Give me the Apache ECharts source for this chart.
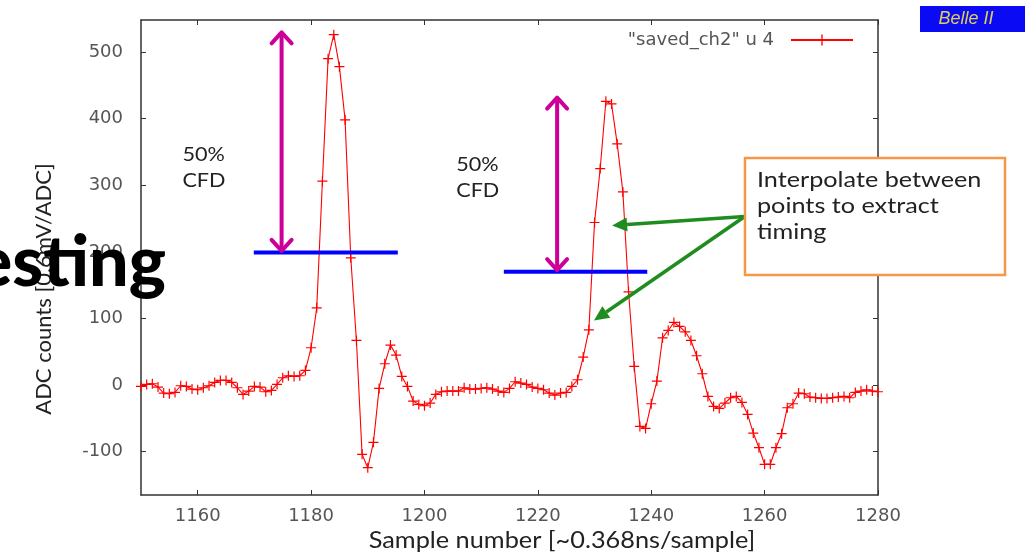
<!DOCTYPE html>
<html>
<head>
<meta charset="utf-8">
<script src="https://cdn.jsdelivr.net/npm/echarts@6/dist/echarts.min.js"></script>
<style>
  html, body { margin: 0; padding: 0; background: #ffffff; }
  #chart { width: 1035px; height: 554px; }
</style>
</head>
<body>
<div id="chart"></div>
<script>
// Waveform: one ADC reading per sample, starting at sample 1150
const firstSample = 1150;
const adcCounts = [
  -2, 1, 2, -3, -12, -13, -11, -1, -2, -6,
  -7, -4, -1, 4, 7, 7, 4, -4, -14, -9,
  -2, -3, -10, -8, 1, 11, 14, 13, 14, 22,
  56, 116, 306, 490, 526, 478, 398, 191, 67, -104,
  -124, -86, -5, 32, 60, 45, 13, -2, -24, -29,
  -31, -27, -14, -10, -9, -9, -9, -4, -6, -6,
  -5, -4, -6, -9, -11, -5, 5, 3, 1, -3,
  -5, -7, -12, -15, -12, -11, -2, 8, 42, 83,
  244, 325, 426, 422, 362, 290, 140, 28, -62, -65,
  -28, 6, 71, 82, 94, 88, 80, 67, 44, 17,
  -17, -32, -35, -27, -19, -17, -26, -44, -72, -94,
  -119, -119, -94, -73, -34, -28, -12, -13, -18, -19,
  -20, -20, -19, -18, -17, -19, -11, -9, -7, -9,
  -10
];
const seriesName = '"saved_ch2" u 4';

// Axis ranges and tick values
const xRange = [1150, 1280];
const yRange = [-165, 548];
const xTicks = [1160, 1180, 1200, 1220, 1240, 1260, 1280];
const yTicks = [-100, 0, 100, 200, 300, 400, 500];

// Annotations, in sample / ADC units
const cfdLevelLines = [[1169.9, 1195.3, 199], [1214.0, 1239.3, 170]];   // [from, to, level]
const cfdArrows = [[1174.8, 531, 200], [1223.4, 433, 171]];            // [sample, top, bottom]
const cfdLabelAt = [[1157.3, 365], [1205.6, 351]];                     // top-left of "50% CFD"
const pointerTail = [1256.5, 253];
const pointerTips = [[1233.1, 239.5], [1229.9, 97]];

const points = adcCounts.map((v, i) => [firstSample + i, v]);

const plusSymbol = 'path://M0,4.4L10,4.4L10,5.6L0,5.6Z M4.4,0L5.6,0L5.6,10L4.4,10Z';
const frameLine = { show: true, onZero: false, lineStyle: { color: '#333333', width: 1.5 } };
const innerTicks = (vals) => ({ show: true, inside: true, length: 5, customValues: vals,
  lineStyle: { color: '#333333', width: 1 } });
const tickFont = { color: '#555555', fontFamily: 'DejaVu Sans', fontSize: 18 };
const plain = (v) => String(v);

const chart = echarts.init(document.getElementById('chart'), null, { renderer: 'canvas' });

chart.setOption({
  animation: false,
  backgroundColor: '#ffffff',
  grid: { left: 141, right: 157, top: 20, bottom: 59 },
  legend: {
    data: [seriesName],
    right: 176, top: 26,
    align: 'right',
    itemWidth: 62, itemHeight: 14,
    textStyle: Object.assign({ padding: [0, 12, 0, 0] }, tickFont)
  },
  xAxis: [
    { type: 'value', min: xRange[0], max: xRange[1], position: 'bottom',
      axisLine: frameLine, axisTick: innerTicks(xTicks), splitLine: { show: false },
      axisLabel: Object.assign({ customValues: xTicks, margin: 12, formatter: plain }, tickFont) },
    { type: 'value', min: xRange[0], max: xRange[1], position: 'top',
      axisLine: frameLine, axisTick: innerTicks(xTicks), splitLine: { show: false },
      axisLabel: { show: false } }
  ],
  yAxis: [
    { type: 'value', min: yRange[0], max: yRange[1], position: 'left',
      axisLine: frameLine, axisTick: innerTicks(yTicks), splitLine: { show: false },
      axisLabel: Object.assign({ customValues: yTicks, margin: 18, formatter: plain }, tickFont) },
    { type: 'value', min: yRange[0], max: yRange[1], position: 'right',
      axisLine: frameLine, axisTick: innerTicks(yTicks), splitLine: { show: false },
      axisLabel: { show: false } }
  ],
  series: [{
    name: seriesName,
    type: 'line',
    data: points,
    xAxisIndex: 0, yAxisIndex: 0,
    clip: true,
    symbol: plusSymbol,
    symbolSize: 10,
    itemStyle: { color: '#ff0000', borderWidth: 0 },
    lineStyle: { color: '#ff0000', width: 1.1 },
    emphasis: { disabled: true }
  }]
});

// --- overlay drawing, placed through the chart's own coordinate system ---
const px = (p) => chart.convertToPixel({ gridIndex: 0 }, p);

function unitVec(a, b) {
  const dx = b[0] - a[0], dy = b[1] - a[1];
  const l = Math.hypot(dx, dy);
  return [dx / l, dy / l];
}

const MAGENTA = '#cc0099';
const BLUE = '#0000ff';
const GREEN = '#1e8c1e';
const slideFont = 'Lato';
const gfx = [];

// blue 50% level lines
cfdLevelLines.forEach(([a, b, lvl]) => {
  const p0 = px([a, lvl]), p1 = px([b, lvl]);
  gfx.push({ type: 'line', z: 100, shape: { x1: p0[0], y1: p0[1], x2: p1[0], y2: p1[1] },
    style: { stroke: BLUE, lineWidth: 4 } });
});

// magenta double-headed arrows with open heads
cfdArrows.forEach(([s, top, bot]) => {
  const pt = px([s, top]), pb = px([s, bot]);
  gfx.push({ type: 'line', z: 101, shape: { x1: pt[0], y1: pt[1] + 2, x2: pb[0], y2: pb[1] - 2 },
    style: { stroke: MAGENTA, lineWidth: 4 } });
  const arm = 10, drop = 12;
  gfx.push({ type: 'polyline', z: 101,
    shape: { points: [[pt[0] - arm, pt[1] + drop], [pt[0], pt[1] + 1], [pt[0] + arm, pt[1] + drop]] },
    style: { stroke: MAGENTA, lineWidth: 4, fill: null, lineCap: 'round', lineJoin: 'round' } });
  gfx.push({ type: 'polyline', z: 101,
    shape: { points: [[pb[0] - arm, pb[1] - drop], [pb[0], pb[1] - 1], [pb[0] + arm, pb[1] - drop]] },
    style: { stroke: MAGENTA, lineWidth: 4, fill: null, lineCap: 'round', lineJoin: 'round' } });
});

// green pointers from the note box to the rising edge
const tail = px(pointerTail);
pointerTips.forEach((t) => {
  const tip = px(t);
  const u = unitVec(tail, tip);
  const n = [-u[1], u[0]];
  const len = 15, half = 7;
  const base = [tip[0] - u[0] * len, tip[1] - u[1] * len];
  gfx.push({ type: 'line', z: 102, shape: { x1: tail[0], y1: tail[1], x2: base[0], y2: base[1] },
    style: { stroke: GREEN, lineWidth: 3.5 } });
  gfx.push({ type: 'polygon', z: 102,
    shape: { points: [tip, [base[0] + n[0] * half, base[1] + n[1] * half], [base[0] - n[0] * half, base[1] - n[1] * half]] },
    style: { fill: GREEN } });
});

// "50% CFD" labels
cfdLabelAt.forEach((p) => {
  const q = px(p);
  gfx.push({ type: 'text', z: 103, x: q[0], y: q[1], scaleX: 1.08,
    style: { text: '50%\nCFD', fill: '#222222', font: '20px ' + slideFont, lineHeight: 26,
      align: 'left', verticalAlign: 'top' } });
});

// note box
gfx.push({ type: 'rect', z: 104, shape: { x: 745, y: 158, width: 260, height: 117 },
  style: { fill: '#ffffff', stroke: '#f79646', lineWidth: 2.5 } });
gfx.push({ type: 'text', z: 105, x: 757, y: 167, scaleX: 1.2,
  style: { text: 'Interpolate between\npoints to extract\ntiming', fill: '#222222',
    font: '21px ' + slideFont, lineHeight: 26, align: 'left', verticalAlign: 'top' } });

// badge
gfx.push({ type: 'rect', z: 104, shape: { x: 920, y: 6, width: 105, height: 26 },
  style: { fill: '#0a0af5' } });
gfx.push({ type: 'text', z: 105, x: 966, y: 19,
  style: { text: 'Belle II', fill: '#e0d050', font: 'italic 18px "Liberation Sans"',
    align: 'center', verticalAlign: 'middle' } });

// axis titles
gfx.push({ type: 'text', z: 103, x: 44, y: 289, rotation: Math.PI / 2,
  style: { text: 'ADC counts [0.6mV/ADC]', fill: '#222222', font: '22px ' + slideFont,
    align: 'center', verticalAlign: 'middle' } });
gfx.push({ type: 'text', z: 103, x: 562, y: 541, scaleX: 1.1,
  style: { text: 'Sample number [~0.368ns/sample]', fill: '#222222', font: '23px ' + slideFont,
    align: 'center', verticalAlign: 'middle' } });

// slide heading fragment
gfx.push({ type: 'text', z: 110, x: 166, y: 263,
  style: { text: 'esting', fill: '#000000', font: '900 70px ' + slideFont,
    align: 'right', verticalAlign: 'middle' } });

chart.setOption({ graphic: gfx });
</script>
</body>
</html>
